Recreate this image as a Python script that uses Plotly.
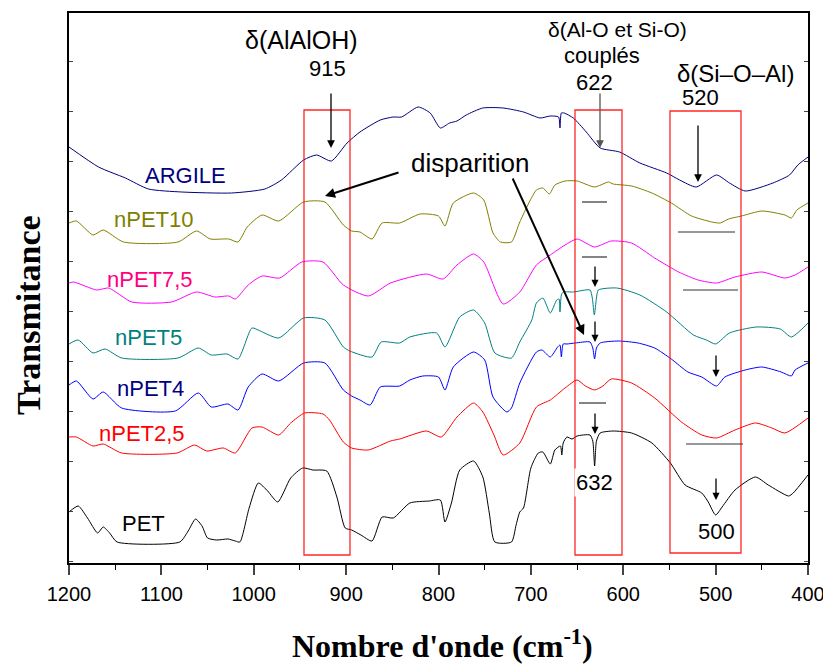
import plotly.graph_objects as go

# ---------------- data (wavenumber cm-1, transmittance a.u. offset) ----------------
pet_wn = [1200,1190,1180,1169,1163,1156,1148,1080,1071,1063,1056,1050,1040,1028,1020,1015,1005,995,985,974,960,947,936,921,910,901,894,884,872,861,849,831,810,798,793,786,777,762,752,745,739,721,716,712,708,700,692,687,679,674,668,666.5,665,661,655.5,650,636,633,631,629,625,611,591,569,549,533,515,508,500,493,479,457,443,421,416,400]
pet_y  = [51,57,45,30,36,30,21,21,32,44,37,25,23,24,22,21,55,80,72,61,85,95,93,92,66,35,33,28,22,46,45,60,62,63,41,60,93,102,86,50,21,21,38,51,55,95,110,111,99,113,117,108,120,126,124,127,128,122,97,122,130,132,130,120,100,78,70,61,48,56,73,86,78,67,70,88]

n25_wn = [1200,1192,1174,1163,1143,1083,1064,1051,1033,1020,1002,991,973,960,945,925,918,903,894,876,852,842,813,797,780,762,752,740,730,712,694,679,663,650,641,631,622,613,591,566,537,515,499,479,457,439,425,400]
n25_y  = [126,126,117,119,110,110,118,112,115,110,135,136,128,140,150,149,143,121,115,113,122,124,132,126,146,160,151,128,108,120,156,163,175,183,177,173,177,184,180,165,141,128,125,133,140,135,130,145]

n4_wn = [1200,1192,1174,1163,1143,1085,1060,1046,1028,1017,1006,991,973,946,923,903,894,885,874,863,842,831,817,800,793,784,762,750,741,726,721,712,694,688,679,671,668.5,667,665,661,652,636,633,631,629,625,605,584,566,548,530,515,499,490,468,450,429,418,414,400]
n4_y  = [178,182,164,171,155,152,170,156,159,153,176,189,182,200,200,173,167,163,158,176,177,183,187,186,173,196,211,203,166,151,155,180,211,213,206,216,218,206,219,219,220,221,215,204,215,220,222,220,215,204,191,186,177,186,193,196,191,187,193,200]

n5_wn = [1200,1190,1174,1161,1143,1082,1060,1046,1029,1017,1002,993,973,946,923,903,896,872,862,842,831,802,793,777,762,750,739,721,712,699,694,687,679,672,669.5,668.5,667,665,654,636,633.5,631.3,629,627,607,582,553,524,510,500,485,456,430,418,400]
n5_y  = [219,223,210,214,205,205,215,208,209,204,235,232,225,245,243,216,212,206,221,220,226,230,216,246,253,240,210,205,221,243,260,265,250,263,264,251,268,271,271,273,265,248,265,273,275,268,251,228,223,219,230,236,234,226,240]

n75_wn = [1200,1195,1170,1157,1132,1089,1062,1042,1027,1020,1006,991,972,948,925,903,876,852,813,795,780,762,751,730,712,694,679,663,650,631,613,591,566,540,519,499,479,450,425,414,400]
n75_y  = [280,281,273,275,261,261,271,266,267,264,278,287,285,301,301,278,267,280,289,284,298,309,301,259,271,298,308,318,324,316,322,320,305,291,283,280,286,291,285,288,296]

n10_wn = [1200,1192,1174,1163,1141,1082,1062,1047,1027,1017,1007,991,973,946,923,903,894,885,872,861,842,820,800,793,784,762,751,741,733,721,712,694,687,680,674,663,650,631,616,611,591,569,548,526,504,495,486,472,450,425,418,412,400]
n10_y  = [340,342,328,333,321,321,332,324,324,321,336,348,342,361,361,338,332,331,324,340,340,349,347,337,360,370,363,330,321,321,341,373,375,369,378,382,382,376,381,379,377,370,360,347,341,340,344,347,352,348,345,353,360]

arg_wn = [1200,1168,1139,1114,1078,1024,988,970,946,932,916,899,885,863,849,840,822,809,798,788,780,770,752,730,708,690,679,670,668.5,667,664,654,640,625,604,582,553,539,521,499,485,468,438,420,411,400]
arg_y  = [416,396,385,374,371,370,374,383,403,408,402,420,431,443,446,446,456,450,435,440,442,448,455,455,451,445,447,446,435,450,450,445,431,415,411,400,390,383,376,388,380,372,380,388,398,406]

series_names  = ["PET", "nPET2,5", "nPET4", "nPET5", "nPET7,5", "nPET10", "ARGILE"]
series_wn     = [pet_wn, n25_wn, n4_wn, n5_wn, n75_wn, n10_wn, arg_wn]
series_y      = [pet_y, n25_y, n4_y, n5_y, n75_y, n10_y, arg_y]
line_colors   = ["#000000", "#FF0000", "#0000FF", "#008080", "#FF00FF", "#808000", "#000080"]
label_colors  = ["#000000", "#FF0000", "#000080", "#008080", "#FF0080", "#808000", "#000080"]

x_ticks = [1200, 1100, 1000, 900, 800, 700, 600, 500, 400]

# ---------------- pixel helpers (for annotation placement only) ----------------
W, H = 831, 667          # window
OFF = 8                  # default page body margin
PL, PR, PT, PB = 69, 808, 13, 563   # plot area in window pixels
def wx(px):
    return 1200 - (px - PL) * 800.0 / (PR - PL)
def wy(py):
    return (PB - py)
def xp(px):
    return (px - PL) / (PR - PL)
def yp(py):
    return (PB - py) / (PB - PT)

fig = go.Figure()
for name, xs, ys, c in zip(series_names, series_wn, series_y, line_colors):
    fig.add_trace(go.Scatter(x=xs, y=ys, mode="lines", name=name,
                             line=dict(color=c, width=1, shape="spline", smoothing=0.6),
                             showlegend=False, hoverinfo="skip"))

FONT = "Arial, Liberation Sans, sans-serif"
shapes = []
for (a, b, t, btm) in [(304, 350, 110, 555), (575, 622, 110, 555), (670, 741, 111, 553)]:
    shapes.append(dict(type="rect", xref="x", yref="y", x0=wx(a), x1=wx(b), y0=wy(btm), y1=wy(t),
                       line=dict(color="rgba(255,0,0,0.85)", width=1.3), fillcolor="rgba(0,0,0,0)"))
for (a, b, yy) in [(582, 607, 202), (582, 607, 257), (678, 735, 232), (683, 738, 290), (579, 606, 403), (686, 743, 444)]:
    shapes.append(dict(type="line", xref="x", yref="y", x0=wx(a), x1=wx(b), y0=wy(yy), y1=wy(yy),
                       line=dict(color="#333333", width=1.2)))

ann = []
def text(px, py, s, size=22, color="black", bg=None):
    d = dict(x=wx(px), y=wy(py), xref="x", yref="y", text=s, showarrow=False,
             font=dict(family=FONT, size=size, color=color), xanchor="center", yanchor="middle")
    if bg:
        d["bgcolor"] = bg
    ann.append(d)

def arrow(x0, y0, x1, y1, color="black", width=1.3, size=1.0):
    ann.append(dict(x=wx(x1), y=wy(y1), ax=wx(x0), ay=wy(y0), xref="x", yref="y", axref="x", ayref="y",
                    text="", showarrow=True, arrowhead=2, arrowsize=size, arrowwidth=width, arrowcolor=color))

label_pos = {"ARGILE": (185, 175), "nPET10": (154, 219), "nPET7,5": (150, 279), "nPET5": (148, 337),
             "nPET4": (150, 388), "nPET2,5": (142, 433), "PET": (143, 523)}
for name, c in zip(series_names, label_colors):
    px, py = label_pos[name]
    text(px, py, name, size=22, color=c)

text(301, 40, "\u03b4(AlAlOH)", size=25)
text(327, 68, "915", size=22)
text(617, 29, "\u03b4(Al-O et Si-O)", size=21)
text(602, 55, "coupl\u00e9s", size=22)
text(594, 82, "622", size=22)
text(735, 73, "\u03b4(Si\u2013O\u2013Al)", size=24)
text(700, 97, "520", size=22)
text(470, 163, "disparition", size=26)
text(594, 482, "632", size=22, bg="white")
text(716, 531, "500", size=22)

arrow(331, 92, 331, 148, size=1.2)
arrow(600, 92, 600, 148, color="#555555", size=1.2)
arrow(698, 124, 698, 182, size=1.2)
arrow(400, 172, 325, 196, width=2, size=1.0)
arrow(512, 177, 584, 335, width=2, size=1.0)
arrow(595, 265, 595, 287, size=1.1)
arrow(595, 320, 595, 342, size=1.1)
arrow(595, 412, 595, 434, size=1.1)
arrow(716, 354, 716, 377, size=1.1)
arrow(716, 477, 716, 500, size=1.1)

ann.append(dict(x=xp(442), y=yp(666), xref="paper", yref="paper", showarrow=False,
                xanchor="center", yanchor="bottom",
                text="<b>Nombre d'onde (cm<sup>-1</sup>)</b>",
                font=dict(family="Times New Roman, Liberation Serif, serif", size=32, color="black")))
ann.append(dict(x=xp(28), y=yp(315), xref="paper", yref="paper", showarrow=False, textangle=-90,
                xanchor="center", yanchor="middle",
                text="<b>Transmitance</b>",
                font=dict(family="Times New Roman, Liberation Serif, serif", size=34, color="black")))

fig.update_layout(
    width=W - OFF, height=H - OFF,
    margin=dict(l=PL - OFF, r=W - PR, t=PT - OFF, b=H - PB, autoexpand=False),
    paper_bgcolor="white", plot_bgcolor="white",
    shapes=shapes, annotations=ann,
    xaxis=dict(range=[1200, 400], tickvals=x_ticks, ticks="outside", ticklen=10, tickwidth=1.5,
               showline=True, linecolor="black", linewidth=2, mirror=True, showgrid=False, zeroline=False,
               tickfont=dict(family=FONT, size=20, color="black"), ticklabelstandoff=2,
               minor=dict(dtick=50, tick0=400, ticks="outside", ticklen=5, tickwidth=1.2, tickcolor="black")),
    yaxis=dict(range=[0, 550], showticklabels=False, ticks="inside", ticklen=4, tick0=1.3, dtick=50,
               showline=True, linecolor="black", linewidth=2, mirror="allticks", showgrid=False, zeroline=False),
)
fig.write_html("out.html")
